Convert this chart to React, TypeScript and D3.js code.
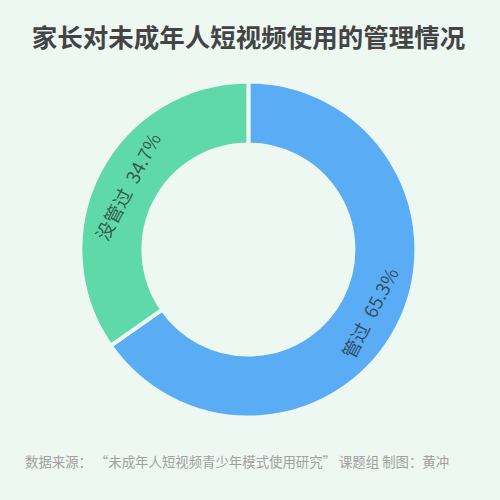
import { useMemo } from "react";
import * as d3 from "d3";

const categories = ["管过", "没管过"];
const shares = [65.3, 34.7];
const sliceColors = ["#5aacf4", "#5fd8aa"];

const title = "家长对未成年人短视频使用的管理情况";
const source = "数据来源： “未成年人短视频青少年模式使用研究” 课题组 制图：黄冲";

const width = 500;
const height = 500;
const bg = "#edf8f3";
const font = "'Noto Sans CJK SC', 'Noto Sans', sans-serif";

export default function App() {
  const cx = 248.4;
  const cy = 249.5;
  const outer = 168;
  const inner = 105;

  const slices = useMemo(() => {
    const pie = d3
      .pie<number>()
      .sort(null)
      .value((d) => d);
    return pie(shares);
  }, []);

  const arc = d3.arc<d3.PieArcDatum<number>>().innerRadius(inner).outerRadius(outer);
  const labelArc = d3
    .arc<d3.PieArcDatum<number>>()
    .innerRadius((inner + outer) / 2)
    .outerRadius((inner + outer) / 2);

  return (
    <svg
      width={width}
      height={height}
      style={{ position: "absolute", left: 0, top: 0 }}
      fontFamily={font}
    >
      <rect width={width} height={height} fill={bg} />
      <text
        x={248.5}
        y={35}
        textAnchor="middle"
        dominantBaseline="central"
        fontSize={25.5}
        fontWeight="bold"
        fill="#444"
      >
        {title}
      </text>

      <g transform={`translate(${cx},${cy})`}>
        {slices.map((s, i) => (
          <path key={categories[i]} d={arc(s) ?? ""} fill={sliceColors[i]} stroke={bg} strokeWidth={4} />
        ))}
        {slices.map((s, i) => {
          const [x, y] = labelArc.centroid(s);
          const deg = (((s.startAngle + s.endAngle) / 2) * 180) / Math.PI;
          const rot = deg < 180 ? deg - 180 : deg - 360;
          return (
            <text
              key={categories[i]}
              transform={`translate(${x},${y}) rotate(${rot})`}
              textAnchor="middle"
              dominantBaseline="central"
              fontSize={18.5}
              fill="#222"
              fillOpacity={0.7}
            >
              <tspan>{categories[i]}</tspan>
              <tspan dx={9}>{`${shares[i]}%`}</tspan>
            </text>
          );
        })}
      </g>

      <text x={25} y={461} dominantBaseline="central" fontSize={13.4} fill="#a0a0a0" style={{ whiteSpace: "pre" }}>
        {source}
      </text>
    </svg>
  );
}
